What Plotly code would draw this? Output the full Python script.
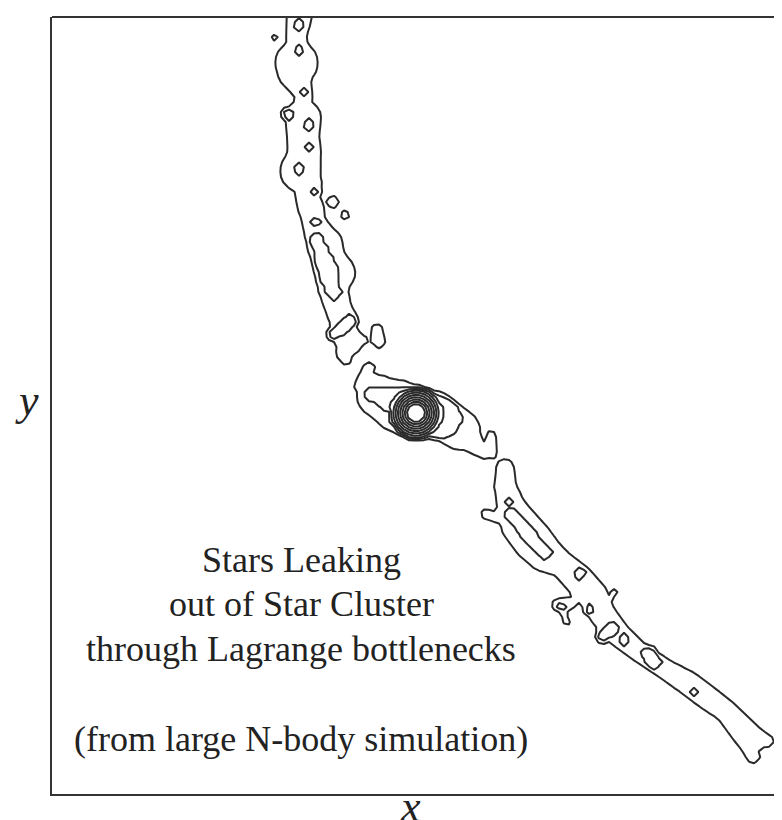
import numpy as np
import plotly.graph_objects as go

# ---- Data (simulation units; x to the right, y upward) ----
# Ridge of the leading (upper) tidal tail: centre positions and half-widths of outer density level
upper_x = [249, 244, 246.5, 244.5, 242.5, 252, 249.5, 251, 251, 252.5, 248.5, 255, 254.5, 259, 261.5,
           266.5, 273, 276, 282.5, 281, 286, 292, 291.5, 297, 292.5, 294]
upper_y = [791, 754, 743, 731, 721, 699, 686, 676, 658, 641, 623, 611, 599, 586, 573,
           561, 549, 536, 521, 506, 486, 473, 461, 453, 441, 434]
upper_w = [14, 10, 12.5, 21.5, 16.5, 9, 8.5, 18, 16, 16.5, 20.5, 15, 11.5, 13, 11.5,
           14.5, 18, 17, 20.5, 15, 13, 14, 10.5, 14, 8.5, 5]

# Envelope around the cluster (outer level)
env_x = [317, 308, 326, 346, 361, 383, 396, 408, 424, 432]
env_y = [426, 408, 398, 388, 382, 381, 372, 364, 348, 340]
env_w = [6, 6, 21, 26, 26, 22, 21, 20, 9, 5]

# Envelope around the cluster (second level)
env2_x = [320, 341, 366, 388, 394]
env2_y = [400, 394, 383, 376, 371]
env2_w = [6, 12, 22, 20, 10]

# Ridge of the trailing (lower) tidal tail
lower_x = [453, 453, 459, 468, 481, 493, 511, 526, 541, 551, 566, 586, 613, 636, 656, 674, 696, 716]
lower_y = [326, 308, 288, 269, 253, 240, 229, 215, 198, 179, 160, 143, 125, 111, 96, 83, 58, 53]
lower_w = [9, 11, 14, 19, 20, 18, 13, 15, 15, 13, 12, 10, 10, 12, 12, 11, 14, 6]

# Inner (second level) ridges inside the tails
inner_up_x = [265, 274, 282]
inner_up_y = [554, 528, 501]
inner_up_w = [5, 9, 6]
inner_low_x = [459, 478, 494]
inner_low_y = [279, 258, 241]
inner_low_w = [5, 6, 5]

# Clumps: start/end position, half-width, density level
clump_x1 = [281, 293, 325, 223, 299, 439, 434, 694, 751, 507, 512, 562,
            282, 246, 251, 264, 264, 246, 236, 256, 258, 247,
            457, 528, 551, 572, 597, 643, 538, 509]
clump_y1 = [592, 579, 464, 756, 453, 358, 280, 51, 38, 189, 182, 201,
            460, 744, 701, 604, 573, 769, 680, 669, 646, 626,
            293, 221, 158, 154, 140, 103, 184, 188]
clump_x2 = [281, 293, 327, 223, 313, 440, 446, 701, 751, 516, 515, 562,
            299, 246, 251, 264, 264, 246, 236, 256, 258, 247,
            457, 528, 562, 572, 602, 643, 538, 509]
clump_y2 = [592, 579, 452, 756, 454, 340, 276, 38, 38, 190, 170, 201,
            473, 744, 701, 604, 573, 769, 680, 669, 646, 626,
            293, 221, 167, 154, 131, 103, 184, 188]
clump_w = [6, 4.5, 6, 3.5, 4, 5, 5, 7, 25, 7, 3, 4,
           5, 3.5, 3.5, 3.5, 3.5, 4.5, 4.5, 4.5, 4, 5,
           3.5, 5, 5, 4.5, 6, 3.5, 4, 3.5]
clump_level = [1, 1, 1, 1, 1, 1, 1, 1, 1, 1, 1, 1,
               2, 2, 2, 2, 2, 2, 2, 2, 2, 2,
               2, 2, 2, 2, 2, 2, 2, 2]

# Cluster core
core_x, core_y = 364, 381
core_r_outer, core_r_inner = 25, 9
core_levels = [3, 4, 5, 6, 7, 8, 9, 10]

text_lines = ["Stars Leaking", "out of Star Cluster", "through Lagrange bottlenecks",
              "(from large N-body simulation)"]

# ---- Density grid ----
gx = np.arange(-8, 750, 5.0)
gy = np.arange(-8, 800, 5.0)
X, Y = np.meshgrid(gx, gy)
Z = np.zeros_like(X)
K = 3.0


def seg_margin(x1, y1, w1, x2, y2, w2):
    dx, dy = x2 - x1, y2 - y1
    L2 = dx * dx + dy * dy
    if L2 == 0:
        t = np.zeros_like(X)
    else:
        t = np.clip(((X - x1) * dx + (Y - y1) * dy) / L2, 0, 1)
    d = np.hypot(X - (x1 + t * dx), Y - (y1 + t * dy))
    return (w1 + t * (w2 - w1)) - d


def add(level, m):
    global Z
    Z = np.maximum(Z, level + np.minimum(m / K, 0.9))


def add_path(xs, ys, ws, level):
    for i in range(len(xs) - 1):
        add(level, seg_margin(xs[i], ys[i], ws[i], xs[i + 1], ys[i + 1], ws[i + 1]))


add_path(upper_x, upper_y, upper_w, 1)
add_path(env_x, env_y, env_w, 1)
add_path(lower_x, lower_y, lower_w, 1)
add_path(env2_x, env2_y, env2_w, 2)
add_path(inner_up_x, inner_up_y, inner_up_w, 2)
add_path(inner_low_x, inner_low_y, inner_low_w, 2)
for i in range(len(clump_x1)):
    add(clump_level[i], seg_margin(clump_x1[i], clump_y1[i], clump_w[i],
                                   clump_x2[i], clump_y2[i], clump_w[i]))

R = np.hypot(X - core_x, Y - core_y)
step = (core_r_outer - core_r_inner) / (core_levels[-1] - core_levels[0])
zc = np.where(R <= core_r_outer, core_levels[0] + (core_r_outer - R) / step,
              core_levels[0] - (R - core_r_outer))
Z = np.maximum(Z, zc)

ink = "#2a2a2a"
fig = go.Figure(go.Contour(
    x=gx, y=gy, z=Z,
    autocontour=False,
    contours=dict(start=1, end=core_levels[-1], size=1, coloring="lines"),
    line=dict(width=2, smoothing=0),
    colorscale=[[0, ink], [1, ink]],
    showscale=False, hoverinfo="skip",
))

serif = "Liberation Serif"
line_y = [234, 190, 145, 55]
for t, yy in zip(text_lines, line_y):
    fig.add_annotation(x=249, y=yy, xref="x", yref="y", text=t, showarrow=False,
                       font=dict(family=serif, size=36, color="#222"),
                       xanchor="center", yanchor="middle")

fig.add_annotation(x=(402 - 44) / 738, y=-0.0505, xref="paper", yref="paper", text="<i>x</i>",
                   showarrow=False, font=dict(family=serif, size=44, color="#222"),
                   xanchor="center", yanchor="bottom")
fig.add_annotation(x=-0.0149, y=0.5058, xref="paper", yref="paper", text="<i>y</i>",
                   showarrow=False, font=dict(family=serif, size=44, color="#222"),
                   xanchor="right", yanchor="middle")

fig.add_shape(type="line", xref="paper", yref="paper", x0=0, x1=1.01, y0=1, y1=1,
              line=dict(color="#333", width=2))

fig.update_layout(
    width=782, height=820,
    margin=dict(l=44, r=0, t=9, b=34),
    plot_bgcolor="white", paper_bgcolor="white",
    showlegend=False,
)
fig.update_xaxes(range=[0, 738], showgrid=False, zeroline=False, showticklabels=False,
                 ticks="", showline=True, linecolor="#333", linewidth=2)
fig.update_yaxes(range=[0, 777], showgrid=False, zeroline=False, showticklabels=False,
                 ticks="", showline=True, linecolor="#333", linewidth=2)

fig.write_html("out.html")
